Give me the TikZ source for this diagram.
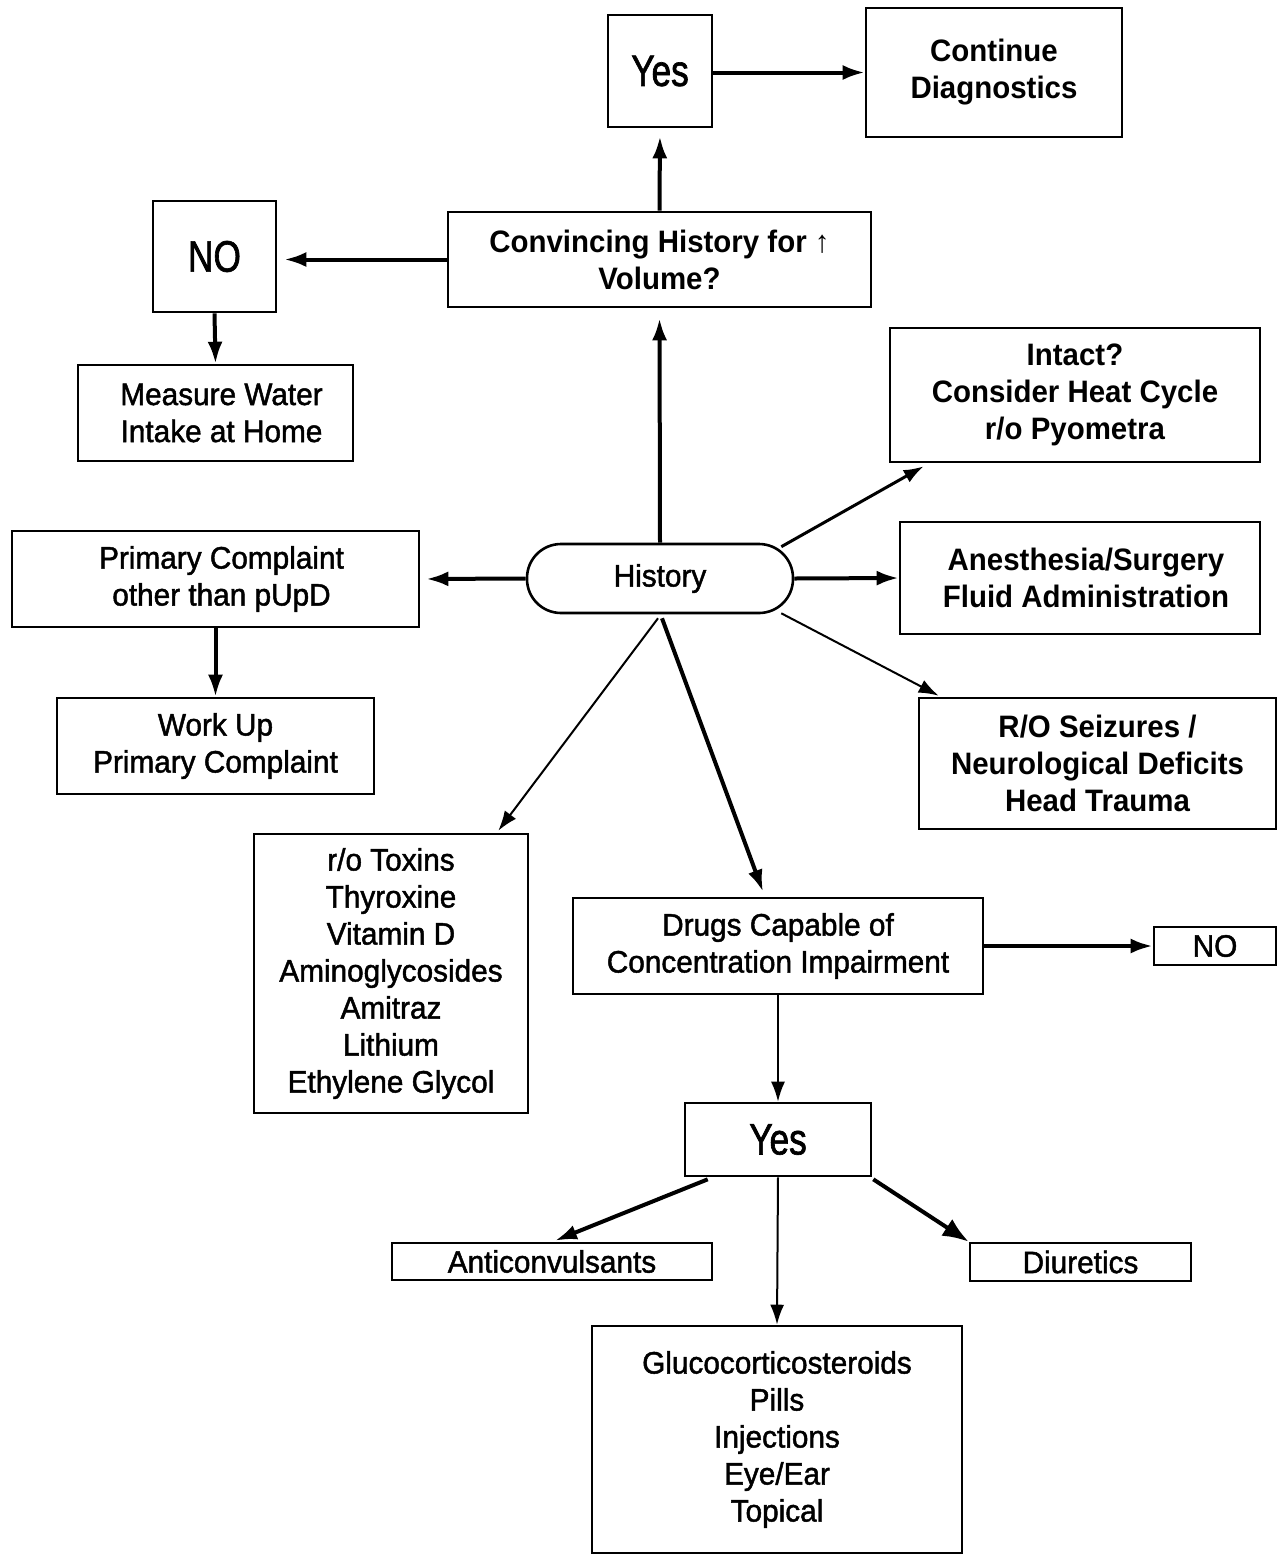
\documentclass[tikz,border=0pt]{standalone}
\usepackage{fontspec}
\setmainfont[FakeStretch=0.96]{Liberation Sans}
\newfontfamily\medfont[FakeStretch=0.96,FakeBold=1.5]{Liberation Sans}
\newfontfamily\bigfont[FakeStretch=0.8,FakeBold=1.5]{Liberation Sans}
\newfontfamily\bldfont[FakeStretch=0.95]{Liberation Sans}
\usetikzlibrary{arrows.meta}
\begin{document}
\begin{tikzpicture}[x=0.5pt,y=-0.5pt,
  box/.style={draw,line width=1.3pt,inner sep=0pt,align=center,font=\fontsize{15.5}{18.5}\medfont},
  bbox/.style={box,font=\fontsize{15.5}{18.5}\bldfont\bfseries},
  big/.style={box,font=\fontsize{22}{24}\bigfont},
  thick arr/.style={line width=2pt,-{Latex[length=11pt,width=7.5pt]}},
  thin arr/.style={line width=1pt,-{Latex[length=10pt,width=7pt]}},
  mid arr/.style={line width=1.5pt,-{Latex[length=10pt,width=7pt]}}]
\useasboundingbox[fill=white] (0,0) rectangle (1280,1554);
\node[big,minimum width=52pt,minimum height=56pt] (yes1) at (660,71) {Yes};
\node[bbox,minimum width=128pt,minimum height=64.5pt] (cont) at (994,72.5) {Continue\\Diagnostics};
\node[bbox,minimum width=211.5pt,minimum height=47.5pt] (conv) at (659.5,259.5) {Convincing History for ↑\\Volume?};
\node[big,minimum width=61.5pt,minimum height=55.5pt] (no1) at (214.5,256.5) {NO};
\node[box,minimum width=137.5pt,minimum height=48pt] (meas) at (215.5,413) {\hspace*{6pt}Measure Water\\\hspace*{6pt}Intake at Home};
\node[bbox,minimum width=185pt,minimum height=67pt] (intact) at (1075,395) {Intact?\\Consider Heat Cycle\\r/o Pyometra};
\node[box,minimum width=203.5pt,minimum height=48pt] (prim) at (215.5,579) {\hspace*{6pt}Primary Complaint\\\hspace*{6pt}other than pUpD};
\node[box,rounded corners=17pt,minimum width=133pt,minimum height=34.5pt] (hist) at (660,578.5) {History};
\node[bbox,minimum width=180pt,minimum height=56pt] (anes) at (1080,578) {\hspace*{6pt}Anesthesia/Surgery\\\hspace*{6pt}Fluid Administration};
\node[box,minimum width=158.5pt,minimum height=48pt] (work) at (215.5,746) {Work Up\\Primary Complaint};
\node[bbox,minimum width=178.5pt,minimum height=65.5pt] (ro) at (1097.5,763.5) {R/O Seizures /\\Neurological Deficits\\Head Trauma};
\node[box,minimum width=137pt,minimum height=139.5pt] (tox) at (391,973.5) {r/o Toxins\\Thyroxine\\Vitamin D\\Aminoglycosides\\Amitraz\\Lithium\\Ethylene Glycol};
\node[box,minimum width=205pt,minimum height=48pt] (drugs) at (778,946) {Drugs Capable of\\Concentration Impairment};
\node[box,minimum width=61pt,minimum height=19pt] (no2) at (1215,946) {NO};
\node[big,minimum width=93pt,minimum height=36.5pt] (yes2) at (778,1139.5) {Yes};
\node[box,minimum width=160pt,minimum height=18.5pt] (anti) at (552,1261.5) {Anticonvulsants};
\node[box,minimum width=110.5pt,minimum height=19pt] (diur) at (1080.5,1262) {Diuretics};
\node[box,minimum width=185pt,minimum height=113.5pt] (gluc) at (777,1439.5) {Glucocorticosteroids\\Pills\\Injections\\Eye/Ear\\Topical};
% connectors
\draw[thick arr,shorten >=5pt] (hist.north) -- (conv.south);
\draw[thick arr,shorten >=4pt] (conv.north) -- (yes1.south);
\draw[thick arr] (yes1.east |- cont.west) -- (cont.west);
\draw[thick arr,shorten >=3.5pt] (conv.west) -- (no1.east |- conv.west);
\draw[thick arr] (no1.south) -- (meas.north);
\draw[mid arr] ([shift={(-13,4)}]hist.north east) -- ([shift={(35,3)}]intact.south west);
\draw[thick arr] (hist.east) -- (anes.west);
\draw[thin arr] ([shift={(-13,-1)}]hist.south east) -- ([shift={(21,-1)}]ro.north west);
\draw[thick arr,shorten >=3pt] (hist.west) -- (prim.east);
\draw[thick arr] (prim.south) -- (work.north);
\draw[thin arr] ([shift={(-2,4)}]hist.south) -- ([shift={(-31,-2)}]tox.north east);
\draw[thick arr] ([shift={(2,4)}]hist.south) -- ([shift={(-15,-5)}]drugs.north);
\draw[thick arr] (drugs.east) -- (no2.west);
\draw[thin arr] (drugs.south) -- (yes2.north);
\draw[thin arr] (yes2.south) -- (gluc.north);
\draw[thick arr] ([shift={(24,2)}]yes2.south west) -- ([shift={(3,-1)}]anti.north);
\draw[line width=2pt,-{Latex[length=13pt,width=10pt]}] ([shift={(1,2)}]yes2.south east) -- (diur.north west);
\end{tikzpicture}
\end{document}
